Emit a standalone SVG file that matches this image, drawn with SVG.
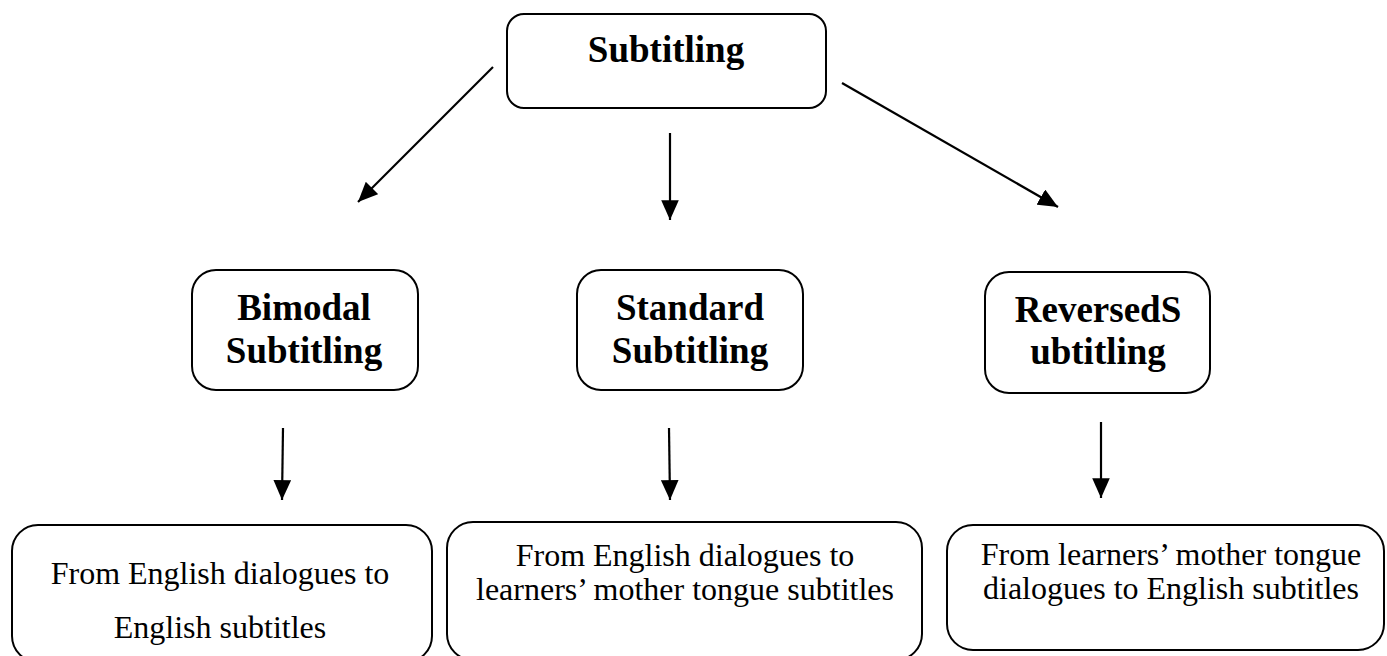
<svg xmlns="http://www.w3.org/2000/svg" width="1387" height="656" viewBox="0 0 1387 656">
<style>
.box{fill:#fff;stroke:#000;stroke-width:2}
.h{font-family:"Liberation Serif","Times New Roman",serif;font-weight:bold;font-size:37px;text-anchor:middle;fill:#000}
.t{font-family:"Liberation Serif","Times New Roman",serif;font-size:32px;text-anchor:middle;fill:#000}
.c{stroke:#000;stroke-width:2.2;fill:none;marker-end:url(#ah)}
</style>
<defs>
<marker id="ah" markerWidth="9" markerHeight="8" refX="9" refY="4" orient="auto" markerUnits="strokeWidth">
<path d="M0,0 L9,4 L0,8 Z" fill="#000"/>
</marker>
</defs>
<rect width="1387" height="656" fill="#fff"/>
<g id="connectors">
<line class="c" x1="493" y1="67" x2="358" y2="202"/>
<line class="c" x1="670" y1="133" x2="670" y2="220"/>
<line class="c" x1="842" y1="83" x2="1058" y2="207"/>
<line class="c" x1="283" y1="428" x2="282" y2="500"/>
<line class="c" x1="669" y1="428" x2="670" y2="500"/>
<line class="c" x1="1101" y1="422" x2="1101" y2="498"/>
</g>
<g id="n-subtitling">
<rect class="box" x="507" y="14" width="319" height="94" rx="17"/>
<text class="h" x="666" y="62">Subtitling</text>
</g>
<g id="n-bimodal">
<rect class="box" x="192" y="270" width="226" height="120" rx="24"/>
<text class="h" x="304" y="320">Bimodal</text>
<text class="h" x="304" y="363">Subtitling</text>
</g>
<g id="n-standard">
<rect class="box" x="577" y="270" width="226" height="120" rx="24"/>
<text class="h" x="690" y="320">Standard</text>
<text class="h" x="690" y="363">Subtitling</text>
</g>
<g id="n-reversed">
<rect class="box" x="985" y="272" width="225" height="121" rx="24"/>
<text class="h" x="1098" y="322">ReversedS</text>
<text class="h" x="1098" y="364">ubtitling</text>
</g>
<g id="n-bimodal-desc">
<rect class="box" x="12" y="525" width="420" height="137" rx="26"/>
<text class="t" x="220" y="584">From English dialogues to</text>
<text class="t" x="220" y="638">English subtitles</text>
</g>
<g id="n-standard-desc">
<rect class="box" x="447" y="522" width="475" height="138" rx="26"/>
<text class="t" x="685" y="566">From English dialogues to</text>
<text class="t" x="685" y="600">learners’ mother tongue subtitles</text>
</g>
<g id="n-reversed-desc">
<rect class="box" x="947" y="525" width="437" height="125" rx="26"/>
<text class="t" x="1171" y="565">From learners’ mother tongue</text>
<text class="t" x="1171" y="599">dialogues to English subtitles</text>
</g>
</svg>
